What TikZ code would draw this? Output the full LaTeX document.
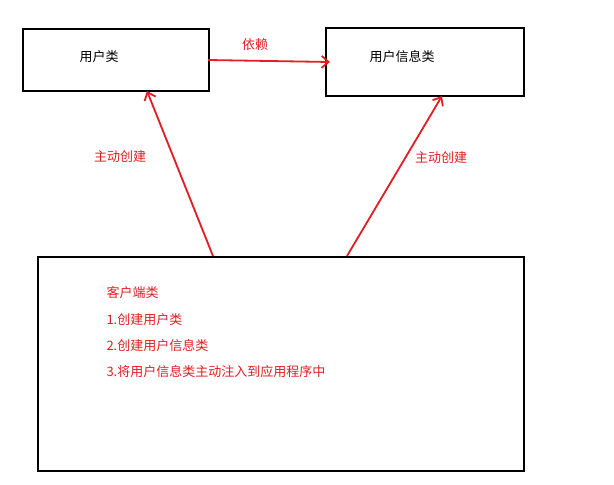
\documentclass[tikz,border=0pt]{standalone}
\usepackage{fontspec}
\setmainfont{Noto Sans CJK SC}
\usetikzlibrary{arrows.meta}
\definecolor{myred}{RGB}{225,30,35}
\begin{document}
\begin{tikzpicture}[x=1pt,y=-1pt,
  box/.style={draw=black,line width=2pt},
  red arrow/.style={draw=myred,line width=1.8pt,-{Straight Barb[length=7pt,width=12pt]}},
  lbl/.style={text=myred,font=\fontsize{13}{15}\selectfont},
  blk/.style={text=black,font=\fontsize{13}{15}\selectfont}]
\useasboundingbox (0,0) rectangle (614,485);
\fill[white] (0,0) rectangle (614,485);
\node[box,minimum width=186pt,minimum height=62pt,anchor=north west] (u) at (22,28) {};
\node[box,minimum width=198pt,minimum height=68pt,anchor=north west] (i) at (325,27) {};
\node[box,minimum width=486pt,minimum height=214pt,anchor=north west] (c) at (37,256) {};
\node[blk] (ut) at (99,57) {用户类};
\node[blk] (it) at (402,57) {用户信息类};
\coordinate (a1) at (208,60);
\coordinate (a2) at (330,62);
\draw[red arrow] (a1) -- (a2);
\node[lbl] (dep) at (255,45) {依赖};
\coordinate (b1) at (213,256);
\coordinate (b2) at (147,91);
\draw[red arrow] (b1) -- (b2);
\coordinate (c1) at (347,256);
\coordinate (c2) at (442,96);
\draw[red arrow] (c1) -- (c2);
\node[lbl] (l1) at (120,157) {主动创建};
\node[lbl] (l2) at (441,158) {主动创建};
\node[lbl,anchor=west] (t1) at (103,293) {客户端类};
\node[lbl,anchor=west] (t2) at (103,320) {1.创建用户类};
\node[lbl,anchor=west] (t3) at (103,346) {2.创建用户信息类};
\node[lbl,anchor=west] (t4) at (103,372) {3.将用户信息类主动注入到应用程序中};
\end{tikzpicture}
\end{document}
